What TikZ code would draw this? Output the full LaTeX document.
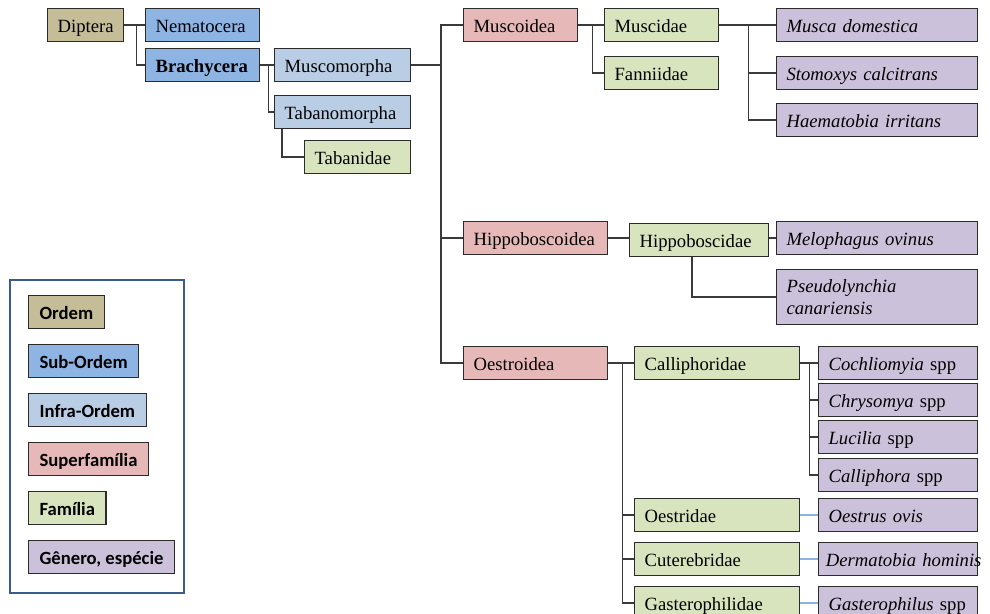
\documentclass[tikz,border=0pt]{standalone}
\usepackage{fontspec}
\setmainfont{Liberation Serif}
\newfontfamily\legfont{Carlito}
\definecolor{cordem}{HTML}{C4BD97}
\definecolor{csub}{HTML}{8EB4E3}
\definecolor{cinfra}{HTML}{B9CDE5}
\definecolor{csuper}{HTML}{E6B9B8}
\definecolor{cfam}{HTML}{D7E4BD}
\definecolor{cgen}{HTML}{CCC1DA}
\definecolor{boxline}{HTML}{2B2B2B}
\definecolor{linkgray}{HTML}{3A3A3A}
\definecolor{linkblue}{HTML}{8DB3E2}
\definecolor{legline}{HTML}{385D8A}

\begin{document}
\begin{tikzpicture}[x=0.75pt,y=-0.75pt,
	box/.style={draw=boxline, line width=0.9pt, anchor=north west, inner xsep=7.5pt, inner ysep=0pt,
		align=left, minimum height=24.75pt, text height=13pt, text depth=1.6pt,
		font=\fontsize{14}{16.5}\selectfont},
	bw/.style={text width={(#1-20)*0.75pt}},
	ordem/.style={box, fill=cordem},
	subordem/.style={box, fill=csub},
	infra/.style={box, fill=cinfra},
	superfam/.style={box, fill=csuper},
	fam/.style={box, fill=cfam},
	gen/.style={box, fill=cgen},
	leg/.style={font=\legfont\bfseries\fontsize{14}{16}\selectfont, inner xsep=8.25pt},
	link/.style={draw=linkgray, line width=1pt},
	blink/.style={draw=linkblue, line width=1pt}]
	\clip (0,0) rectangle (990,614);
	% arvore
	\node[ordem, bw=76] (dip) at (47,8) {Diptera};
	\node[subordem, bw=114] (nema) at (145,8) {Nematocera};
	\node[subordem, bw=114] (brachy) at (145,48) {\bfseries Brachycera};
	\node[infra, bw=136] (muscom) at (274,48) {Muscomorpha};
	\node[infra, bw=136] (tabm) at (274,95) {Tabanomorpha};
	\node[fam, bw=106] (tabd) at (304,140) {Tabanidae};
	\node[superfam, bw=114] (muscoid) at (463,8) {Muscoidea};
	\node[fam, bw=114] (muscid) at (604,8) {Muscidae};
	\node[fam, bw=114] (fann) at (604,56) {Fanniidae};
	\node[gen, bw=201] (musca) at (776,8) {\textit{Musca domestica}};
	\node[gen, bw=201] (stomo) at (776,56) {\textit{Stomoxys calcitrans}};
	\node[gen, bw=201] (haema) at (776,103) {\textit{Haematobia irritans}};
	\node[superfam, bw=144] (hippoid) at (463,221) {Hippoboscoidea};
	\node[fam, bw=139] (hippid) at (629,223) {Hippoboscidae};
	\node[gen, bw=201] (melo) at (776,221) {\textit{Melophagus ovinus}};
	\node[gen, bw=201, text height=, text depth=, minimum height=41.25pt] (pseudo) at (776,269) {\textit{Pseudolynchia}\\\textit{canariensis}};
	\node[superfam, bw=144] (oestroid) at (463,346) {Oestroidea};
	\node[fam, bw=165] (calli) at (634,346) {Calliphoridae};
	\node[gen, bw=159] (cochl) at (818,346) {\textit{Cochliomyia} spp};
	\node[gen, bw=159] (chrys) at (818,383) {\textit{Chrysomya} spp};
	\node[gen, bw=159] (luci) at (818,420) {\textit{Lucilia} spp};
	\node[gen, bw=159] (callo) at (818,458) {\textit{Calliphora} spp};
	\node[fam, bw=165] (oestrid) at (634,498) {Oestridae};
	\node[gen, bw=159] (oestrus) at (818,498) {\textit{Oestrus ovis}};
	\node[fam, bw=165] (cuter) at (634,542) {Cuterebridae};
	\node[gen, bw=159] (dermat) at (818,542) {\mbox{\hspace*{-2pt}\textit{Dermatobia hominis}}};
	\node[fam, bw=165] (gastid) at (634,586) {Gasterophilidae};
	\node[gen, bw=159] (gasto) at (818,586) {\mbox{\textit{Gasterophilus} spp}};
	% ligacoes
	\draw[link] (dip.east) -- (nema.west);
	\draw[link] (dip.east) ++(12,0) |- (brachy.west);
	\draw[link] (brachy.east) -- (muscom.west);
	\draw[link] (brachy.east) ++(8,0) |- (tabm.west);
	\draw[link] (tabm.south west) ++(8,0) |- (tabd.west);
	\coordinate (trunk) at (441,0);
	\draw[link] (muscom.east) -- (muscom.east -| trunk);
	\draw[link] (muscoid.west) -- (muscoid.west -| trunk) -- (oestroid.west -| trunk) -- (oestroid.west);
	\draw[link] (hippoid.west -| trunk) -- (hippoid.west);
	\draw[link] (muscoid.east) -- (muscid.west);
	\draw[link] (muscoid.east) ++(14,0) |- (fann.west);
	\draw[link] (muscid.east) -- (musca.west);
	\foreach \n in {stomo,haema}
		\draw[link] (muscid.east) ++(29,0) |- (\n.west);
	\draw[link] (hippoid.east) -- (hippoid.east -| hippid.west);
	\draw[link] (melo.west -| hippid.east) -- (melo.west);
	\draw[link] (hippid.south west) ++(63,0) |- (pseudo.west);
	\draw[link] (oestroid.east) -- (calli.west);
	\foreach \n in {oestrid,cuter,gastid}
		\draw[link] (oestroid.east) ++(14,0) |- (\n.west);
	\draw[link] (calli.east) -- (cochl.west);
	\foreach \n in {chrys,luci,callo}
		\draw[link] (calli.east) ++(9,0) |- (\n.west);
	\draw[blink] (oestrid.east) -- (oestrus.west);
	\draw[blink] (cuter.east) -- (dermat.west);
	\draw[blink] (gastid.east) -- (gasto.west);
	% legenda
	\draw[draw=legline, line width=1.5pt] (10,280) rectangle (184,593);
	\node[ordem, leg] (lordem) at (28,295) {Ordem};
	\node[subordem, leg] (lsub) at (28,344) {Sub-Ordem};
	\node[infra, leg] (linfra) at (28,393) {Infra-Ordem};
	\node[superfam, leg] (lsuper) at (28,442) {Superfamília};
	\node[fam, leg] (lfam) at (28,491) {Família};
	\node[gen, leg] (lgen) at (28,540) {Gênero, espécie};
\end{tikzpicture}
\end{document}
